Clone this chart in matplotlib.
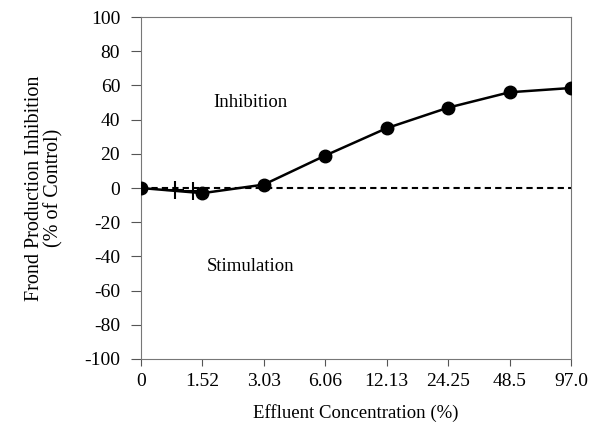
import matplotlib
matplotlib.use("Agg")
import matplotlib.pyplot as plt

conc_labels = ["0", "1.52", "3.03", "6.06", "12.13", "24.25", "48.5", "97.0"]
inhibition = [0, -3, 2, 19, 35, 47, 56, 58.5]
cross_pos = [0.55, 0.85]
cross_vals = [-1, -2]

plt.rcParams["font.family"] = ["Liberation Serif", "DejaVu Serif"]
plt.rcParams["axes.unicode_minus"] = False

fig = plt.figure(figsize=(5.96, 4.37), dpi=100)
ax = fig.add_axes([0.2366, 0.1785, 0.7214, 0.7825])

x = list(range(len(conc_labels)))
ax.plot([x[0], x[-1]], [0, 0], color="black", linestyle=(0, (3, 2)), linewidth=1.5, zorder=1)
ax.plot(x, inhibition, color="black", linewidth=1.8, marker="o", markersize=9, zorder=3)
ax.plot(cross_pos, cross_vals, linestyle="none", marker="+", markersize=13,
        markeredgewidth=1.5, color="black", zorder=4)

ax.text(1.78, 50, "Inhibition", fontsize=13.5, ha="center", va="center")
ax.text(1.78, -46, "Stimulation", fontsize=13.5, ha="center", va="center")

ax.set_xlim(0, 7)
ax.set_ylim(-100, 100)
ax.set_xticks(x)
ax.set_xticklabels(conc_labels)
ax.set_yticks(range(-100, 101, 20))
ax.tick_params(labelsize=14, direction="out", width=0.8, color="#555555")
ax.yaxis.set_tick_params(length=7, pad=8)
ax.xaxis.set_tick_params(length=5, pad=5)
for s in ax.spines.values():
    s.set_color("#777777")
    s.set_linewidth(0.8)

ax.set_xlabel("Effluent Concentration (%)", fontsize=13.5, labelpad=10)
ax.set_ylabel("Frond Production Inhibition\n(% of Control)", fontsize=14.5, labelpad=15,
              linespacing=1.0)

fig.savefig("out.png", dpi=100)
